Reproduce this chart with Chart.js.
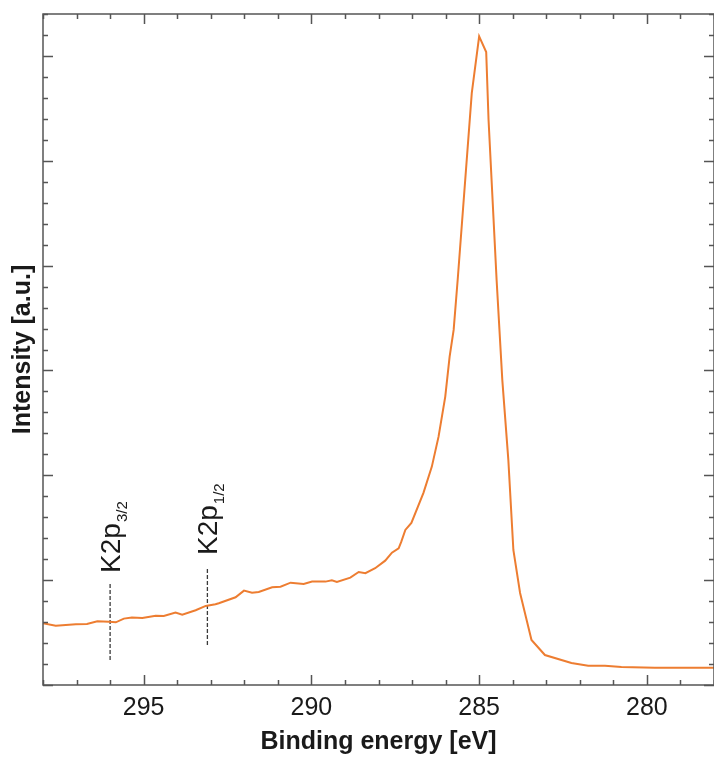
<!DOCTYPE html>
<html>
<head>
<meta charset="utf-8">
<script src="https://cdn.jsdelivr.net/npm/chart.js@4.4.0/dist/chart.umd.min.js"></script>
<style>
  html, body { margin: 0; padding: 0; background: #fff; }
  #box { width: 714px; height: 758px; }
</style>
</head>
<body>
<div id="box"><canvas id="grafico"></canvas></div>
<script>
// Espectro (energia de ligação em eV, intensidade em unidades arbitrárias)
const energia = [
  298.03, 297.62, 297.02, 296.69, 296.38, 296.03, 295.83, 295.59, 295.35, 295.04,
  294.64, 294.40, 294.05, 293.85, 293.45, 293.15, 292.86, 292.76, 292.26, 292.01,
  291.77, 291.57, 291.17, 290.92, 290.62, 290.23, 289.98, 289.58, 289.39, 289.24,
  288.84, 288.59, 288.39, 288.10, 287.80, 287.60, 287.40, 287.32, 287.20, 287.02,
  286.66, 286.41, 286.21, 286.01, 285.88, 285.76, 285.64, 285.22, 285.00, 284.79,
  284.72, 284.48, 284.31, 284.13, 283.98, 283.78, 283.44, 283.04, 282.25, 281.75,
  281.25, 280.76, 279.76, 278.09, 277.90
];
const intensidade = [
  0.59, 0.566, 0.579, 0.582, 0.608, 0.604, 0.598, 0.633, 0.644, 0.639,
  0.661, 0.658, 0.690, 0.671, 0.713, 0.754, 0.770, 0.780, 0.837, 0.900,
  0.881, 0.887, 0.932, 0.938, 0.976, 0.964, 0.986, 0.986, 0.999, 0.983,
  1.024, 1.078, 1.066, 1.114, 1.186, 1.262, 1.304, 1.367, 1.479, 1.546,
  1.832, 2.083, 2.369, 2.751, 3.133, 3.387, 3.865, 5.646, 6.186, 6.037,
  5.391, 3.865, 2.910, 2.147, 1.288, 0.878, 0.429, 0.286, 0.210, 0.184,
  0.184, 0.172, 0.165, 0.165, 0.165
];

// Marcadores K2p (posição, início e fim da linha tracejada, base do rótulo)
const picosNome = ['K2p', 'K2p'];
const picosSub = ['3/2', '1/2'];
const picosEnergia = [296.0, 293.1];
const linhaInicio = [0.239, 0.382];
const linhaFim = [0.974, 1.119];
const rotuloBase = [1.069, 1.24];

// Eixos
const xMin = 278, xMax = 298;
const yMin = 0, yMax = 6.4;
const xRotulos = [295, 290, 285, 280];

const corLinha = '#ED7D31';
const corEixo = '#555555';
const corTexto = '#1a1a1a';
const fonte = '"Liberation Sans", Arial, Helvetica, sans-serif';

// Moldura e marcas de escala para dentro, nos quatro lados
const molduraPlugin = {
  id: 'moldura',
  afterDatasetsDraw(chart) {
    const { ctx, chartArea: a, scales: { x, y } } = chart;
    ctx.save();
    ctx.strokeStyle = corEixo;
    ctx.lineWidth = 1.5;
    ctx.strokeRect(a.left, a.top, a.right - a.left, a.bottom - a.top);
    ctx.beginPath();
    for (let v = xMin; v <= xMax; v++) {
      const px = Math.round(x.getPixelForValue(v)) + 0.5;
      const len = v % 5 === 0 ? 10 : 5;
      ctx.moveTo(px, a.bottom); ctx.lineTo(px, a.bottom - len);
      ctx.moveTo(px, a.top); ctx.lineTo(px, a.top + len);
    }
    for (let i = 0; i <= Math.round((yMax - yMin) / 0.2); i++) {
      const v = yMin + i * 0.2;
      const py = Math.round(y.getPixelForValue(v)) + 0.5;
      const len = i % 5 === 0 ? 10 : 5;
      ctx.moveTo(a.left, py); ctx.lineTo(a.left + len, py);
      ctx.moveTo(a.right, py); ctx.lineTo(a.right - len, py);
    }
    ctx.stroke();

    // rótulos K2p com subscrito, girados
    ctx.fillStyle = corTexto;
    ctx.textAlign = 'left';
    ctx.textBaseline = 'alphabetic';
    picosNome.forEach((nome, i) => {
      const px = x.getPixelForValue(picosEnergia[i]) + 10;
      const py = y.getPixelForValue(rotuloBase[i]);
      ctx.save();
      ctx.translate(px, py);
      ctx.rotate(-Math.PI / 2);
      ctx.font = '28px ' + fonte;
      ctx.fillText(nome, 0, 0);
      const w = ctx.measureText(nome).width;
      ctx.font = '15px ' + fonte;
      ctx.fillText(picosSub[i], w + 1, 7);
      ctx.restore();
    });
    ctx.restore();
  }
};

const datasets = [{
  data: energia.map((e, i) => ({ x: e, y: intensidade[i] })),
  borderColor: corLinha,
  borderWidth: 2,
  pointRadius: 0,
  tension: 0
}];
picosEnergia.forEach((e, i) => {
  datasets.push({
    data: [{ x: e, y: linhaInicio[i] }, { x: e, y: linhaFim[i] }],
    borderColor: '#3a3a3a',
    borderWidth: 1.3,
    borderDash: [4, 2],
    pointRadius: 0
  });
});

new Chart(document.getElementById('grafico').getContext('2d'), {
  type: 'line',
  data: { datasets },
  options: {
    responsive: true,
    maintainAspectRatio: false,
    animation: false,
    layout: { padding: { top: 14, right: 0, left: 0, bottom: 0 } },
    plugins: { legend: { display: false }, tooltip: { enabled: false } },
    scales: {
      x: {
        type: 'linear',
        reverse: true,
        min: xMin,
        max: xMax,
        grid: { display: false, drawTicks: false },
        border: { display: false },
        afterBuildTicks: s => { s.ticks = xRotulos.map(v => ({ value: v })); },
        afterFit: s => { s.height = 73; },
        ticks: { color: corTexto, padding: 8, font: { family: fonte, size: 25 } },
        title: {
          display: true,
          text: 'Binding energy [eV]',
          color: corTexto,
          padding: { top: 0, bottom: 1 },
          font: { family: fonte, size: 25, weight: 'bold' }
        }
      },
      y: {
        min: yMin,
        max: yMax,
        grid: { display: false, drawTicks: false },
        border: { display: false },
        ticks: { display: false },
        afterFit: s => { s.width = 43; },
        title: {
          display: true,
          text: 'Intensity [a.u.]',
          color: corTexto,
          padding: { top: 8, bottom: 0 },
          font: { family: fonte, size: 25, weight: 'bold' }
        }
      }
    }
  },
  plugins: [molduraPlugin]
});
</script>
</body>
</html>
